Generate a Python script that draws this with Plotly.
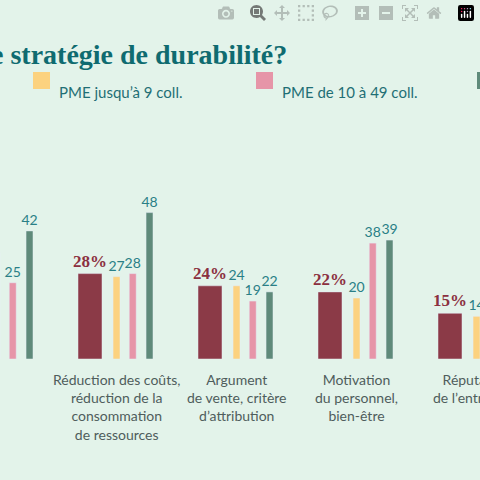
import plotly.graph_objects as go

categories = ["Valeurs<br>internationales<br>de l’entreprise",
              "Réduction des coûts,<br>réduction de la<br>consommation<br>de ressources",
              "Argument<br>de vente, critère<br>d’attribution",
              "Motivation<br>du personnel,<br>bien-être",
              "Réputation<br>de l’entreprise"]
total = [31, 28, 24, 22, 15]
pme9 = [35, 27, 24, 20, 14]
pme49 = [25, 28, 19, 38, 12]
pme50 = [42, 48, 22, 39, 18]
series_names = ["Total", "PME jusqu’à 9 coll.", "PME de 10 à 49 coll.", "PME de 50 à 249 coll."]

BG = "#e3f3ea"
colors = ["#8b3a47", "#fcd27f", "#e695a8", "#5f8a7a"]
xs = list(range(len(categories)))

fig = go.Figure()
specs = [(total, -0.317, 0.2), (pme9, -0.025, 0.058), (pme49, 0.11, 0.058), (pme50, 0.25, 0.058)]
for k, (vals, off, w) in enumerate(specs):
    if k == 0:
        tt = "<b>%{y}%</b>"
        tf = dict(family="Liberation Serif", size=17, color="#8b3040")
    else:
        tt = "%{y}"
        tf = dict(family="Lato", size=14, color="#2a7f86")
    fig.add_bar(x=xs, y=vals, offset=off, width=w, marker_color=colors[k],
                name=series_names[k], texttemplate=tt, textposition="outside",
                constraintext="none", textfont=tf, cliponaxis=False, showlegend=False)

H = 480; top = 100; bottom = 359
ph = bottom - top
def py(p):
    return (bottom - p) / ph

for i, c in enumerate(categories):
    fig.add_annotation(x=i, y=py(369), xref="x", yref="paper", text=c, showarrow=False,
                       yanchor="top", align="center",
                       font=dict(family="Lato", size=14, color="#4f5d5c"))

fig.add_annotation(x=289/480, y=py(37), xref="paper", yref="paper", xanchor="right",
                   text="<b>e stratégie de durabilité?</b>", showarrow=False,
                   font=dict(family="Liberation Serif", size=28, color="#0f6b70"))

legend = [(33, series_names[1], colors[1]), (256, series_names[2], colors[2]), (477, series_names[3], colors[3])]
for x0, name, col in legend:
    fig.add_shape(type="rect", xref="paper", yref="paper", x0=x0/480, x1=(x0+17)/480,
                  y0=py(89), y1=py(72), fillcolor=col, line_width=0)
    fig.add_annotation(x=(x0+24)/480, y=py(81), xref="paper", yref="paper", xanchor="left",
                       text=name, showarrow=False,
                       font=dict(family="Lato", size=15, color="#1f6f75"))

fig.update_layout(width=480, height=480, paper_bgcolor=BG, plot_bgcolor=BG,
                  margin=dict(l=0, r=0, t=top, b=H - bottom), barmode="overlay",
                  xaxis=dict(range=[0.033, 4.033], visible=False),
                  yaxis=dict(range=[0, ph / 3.05], visible=False))
fig.write_html("out.html", post_script="document.body.style.margin='0';document.body.style.overflow='hidden';")
